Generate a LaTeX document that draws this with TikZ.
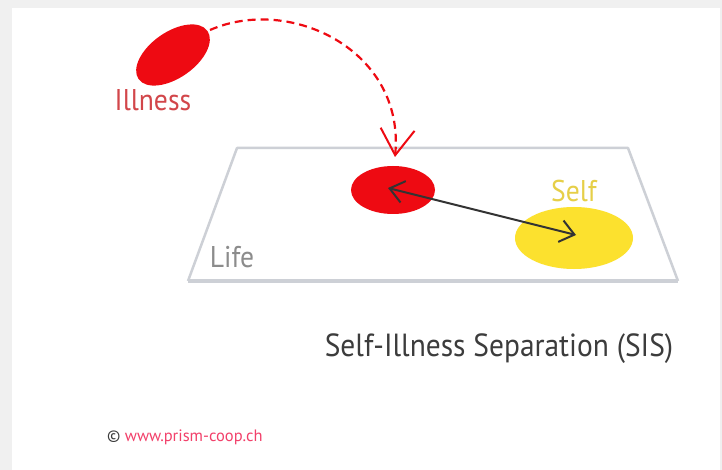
\documentclass[tikz,border=0pt]{standalone}
\usepackage{fontspec}
\setmainfont{PT Sans}
\usetikzlibrary{arrows.meta}
\definecolor{bgray}{HTML}{F0F0F0}
\definecolor{ired}{HTML}{EE0A12}
\definecolor{itext}{HTML}{D2464A}
\definecolor{syellow}{HTML}{FCE12E}
\definecolor{stext}{HTML}{E6CF48}
\definecolor{plane}{HTML}{CDD0D6}
\definecolor{ltext}{HTML}{8C8C8C}
\definecolor{ttext}{HTML}{3C3C3C}
\definecolor{arr}{HTML}{333333}
\definecolor{link}{HTML}{F2406A}
\tikzset{
  lbl/.style={inner sep=0pt, font=\fontsize{30}{30}\selectfont},
}
\newcommand{\narrow}[1]{\scalebox{0.92}[1]{#1}}
\begin{document}
\begin{tikzpicture}[x=1pt,y=-1pt]
\fill[bgray] (0,0) rectangle (722,470);
\fill[white] (12,8) rectangle (720,470);
\useasboundingbox (0,0) rectangle (722,470);
% plane
\coordinate (tl) at (237,148);
\coordinate (tr) at (628,148);
\coordinate (br) at (678,281);
\coordinate (bl) at (188,281);
\draw[plane, line width=2.5pt, line join=round] (bl) -- (tl) -- (tr) -- (br);
\draw[plane, line width=4.5pt] (bl) -- (br);
% illness blob
\fill[ired, rotate around={35:(173,55)}] (173,55) ellipse [x radius=42, y radius=23];
\coordinate (arcstart) at (210,30);
\node[lbl, text=itext] (illtxt) at (153,100) {\narrow{Illness}};
% red ellipse on plane
\fill[ired] (393,190) ellipse [x radius=42, y radius=24];
\coordinate (redc) at (388,188);
\coordinate (droptip) at (395,157);
% yellow
\fill[syellow] (574,238) ellipse [x radius=59, y radius=31];
\coordinate (yelc) at (576,235);
\node[lbl, text=stext] (self) at (574,191) {\narrow{Self}};
\node[lbl, text=ltext] (life) at (232,257) {\narrow{Life}};
% dashed arc
\draw[ired, line width=2.2pt, dash pattern=on 8pt off 5pt,
  -{Straight Barb[length=26pt,width=34pt,line width=2pt]}]
  (arcstart) .. controls (290,-5) and (405,50) .. (droptip);
% double arrow
\draw[arr, line width=2pt,
  {Straight Barb[length=14pt,width=22pt,line width=2pt]}-{Straight Barb[length=14pt,width=22pt,line width=2pt]}]
  (redc) -- (yelc);
% title
\node[inner sep=0pt, text=ttext, font=\fontsize{32}{32}\selectfont] (title) at (499,349) {\narrow{Self-Illness Separation (SIS)}};
% copyright
\node[inner sep=0pt, anchor=west, font=\fontsize{16.5}{16.5}\selectfont] (copy) at (107,437) {\textcolor{ttext}{©} \textcolor{link}{www.prism-coop.ch}};
\end{tikzpicture}
\end{document}
